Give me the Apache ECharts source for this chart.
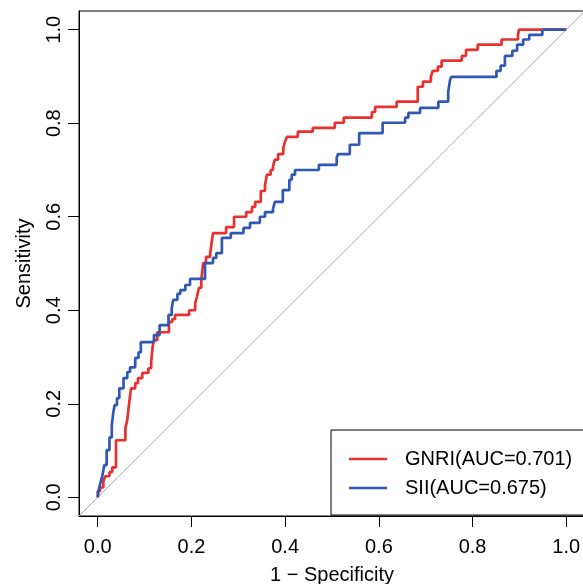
<!DOCTYPE html>
<html>
<head>
<meta charset="utf-8">
<script src="https://cdn.jsdelivr.net/npm/echarts@6/dist/echarts.min.js"></script>
<style>
html, body { margin: 0; padding: 0; background: #fff; }
#chart { width: 583px; height: 584px; }
</style>
</head>
<body>
<div id="chart"></div>
<script>
// ROC curves, x = 1 - specificity, y = sensitivity
var gnriFpr = [0, 0, 0.005, 0.012, 0.016, 0.025, 0.031, 0.039, 0.059, 0.063, 0.067, 0.071, 0.080, 0.086, 0.095, 0.108,
    0.114, 0.117, 0.120, 0.127, 0.152, 0.159, 0.165, 0.195, 0.208, 0.212, 0.216, 0.221, 0.225, 0.231, 0.240, 0.243,
    0.246, 0.274, 0.291, 0.317, 0.329, 0.336, 0.348, 0.357, 0.361, 0.369, 0.374, 0.378, 0.385, 0.396, 0.400, 0.404,
    0.427, 0.459, 0.506, 0.525, 0.585, 0.592, 0.638, 0.683, 0.694, 0.711, 0.715, 0.726, 0.734, 0.777, 0.786, 0.811,
    0.862, 0.897, 0.899, 1];
var gnriTpr = [0, 0.013, 0.021, 0.034, 0.045, 0.054, 0.064, 0.122, 0.148, 0.165, 0.201, 0.233, 0.244, 0.255, 0.266, 0.276,
    0.289, 0.321, 0.336, 0.353, 0.375, 0.381, 0.390, 0.400, 0.415, 0.430, 0.448, 0.465, 0.501, 0.514, 0.522, 0.544,
    0.565, 0.578, 0.600, 0.610, 0.621, 0.632, 0.655, 0.668, 0.690, 0.700, 0.707, 0.722, 0.734, 0.747, 0.762, 0.771,
    0.782, 0.790, 0.801, 0.812, 0.824, 0.835, 0.846, 0.878, 0.889, 0.899, 0.912, 0.921, 0.934, 0.944, 0.957, 0.968,
    0.979, 0.989, 1, 1];

var siiFpr = [0, 0.002, 0.006, 0.010, 0.014, 0.019, 0.025, 0.030, 0.033, 0.036, 0.041, 0.046, 0.055, 0.063, 0.069, 0.080,
    0.087, 0.092, 0.120, 0.132, 0.151, 0.158, 0.161, 0.170, 0.176, 0.187, 0.197, 0.229, 0.246, 0.253, 0.265, 0.284,
    0.311, 0.325, 0.346, 0.357, 0.374, 0.378, 0.395, 0.409, 0.414, 0.421, 0.472, 0.510, 0.513, 0.538, 0.558, 0.608,
    0.656, 0.663, 0.688, 0.727, 0.748, 0.752, 0.755, 0.851, 0.860, 0.869, 0.885, 0.895, 0.908, 0.921, 0.949, 1];
var siiTpr = [0, 0.015, 0.032, 0.047, 0.069, 0.101, 0.128, 0.154, 0.180, 0.197, 0.212, 0.233, 0.255, 0.268, 0.278, 0.298,
    0.310, 0.332, 0.347, 0.368, 0.390, 0.405, 0.422, 0.435, 0.443, 0.454, 0.467, 0.501, 0.512, 0.522, 0.555, 0.565,
    0.576, 0.587, 0.600, 0.610, 0.617, 0.632, 0.657, 0.679, 0.690, 0.700, 0.711, 0.726, 0.734, 0.754, 0.779, 0.801,
    0.812, 0.822, 0.833, 0.846, 0.867, 0.893, 0.899, 0.912, 0.923, 0.944, 0.955, 0.968, 0.979, 0.989, 1, 1];

var tickValues = [0, 0.2, 0.4, 0.6, 0.8, 1.0];
var seriesNames = ["GNRI(AUC=0.701)", "SII(AUC=0.675)"];
var seriesColors = ["#e8302e", "#2f57b3"];

function pairs(xs, ys) {
    var out = [];
    for (var i = 0; i < xs.length; i++) out.push([xs[i], ys[i]]);
    return out;
}

var FONT = "'Liberation Sans', Arial, Helvetica, sans-serif";

var chart = echarts.init(document.getElementById("chart"), null, {renderer: "canvas"});
chart.setOption({
    animation: false,
    backgroundColor: "#fff",
    // plot box runs past the right edge of the page, like the cut-off R plot
    grid: {left: 79, top: 11, width: 506, height: 505, outerBoundsMode: "none", containLabel: false,
        show: true, borderColor: "#000", borderWidth: 1},
    legend: {
        left: 331, top: 430,
        orient: "vertical",
        data: seriesNames,
        icon: "rect",
        itemWidth: 38, itemHeight: 2.7,
        itemGap: 9,
        padding: [19, 40, 17, 18],
        borderColor: "#000", borderWidth: 1,
        backgroundColor: "#fff",
        selectedMode: false,
        textStyle: {fontFamily: FONT, fontSize: 20, color: "#000", padding: [0, 0, 0, 13]}
    },
    xAxis: {
        type: "value", min: -0.04, max: 1.04,
        name: "1 \u2212 Specificity", nameLocation: "middle", nameGap: 49,
        nameTextStyle: {fontFamily: FONT, fontSize: 20, color: "#000"},
        splitLine: {show: false},
        axisLine: {show: true, onZero: false, lineStyle: {color: "#000", width: 1}},
        axisTick: {show: true, customValues: tickValues, length: 11, lineStyle: {color: "#000", width: 1}},
        axisLabel: {customValues: tickValues, margin: 21, fontFamily: FONT, fontSize: 20, color: "#000",
            formatter: function (v) { return v.toFixed(1); }}
    },
    yAxis: {
        type: "value", min: -0.04, max: 1.04,
        name: "Sensitivity", nameLocation: "middle", nameGap: 45,
        nameTextStyle: {fontFamily: FONT, fontSize: 20, color: "#000"},
        splitLine: {show: false},
        axisLine: {show: true, onZero: false, lineStyle: {color: "#000", width: 1}},
        axisTick: {show: true, customValues: tickValues, length: 11, lineStyle: {color: "#000", width: 1}},
        axisLabel: {customValues: tickValues, margin: 15, rotate: 90, fontFamily: FONT, fontSize: 20, color: "#000",
            formatter: function (v) { return v.toFixed(1); }}
    },
    series: [
        {
            type: "line", name: "diag", data: [[-0.04, -0.04], [1.04, 1.04]],
            symbol: "none", silent: true, z: 1,
            lineStyle: {color: "#aaaaaa", width: 1}
        },
        {
            type: "line", name: seriesNames[0], data: pairs(gnriFpr, gnriTpr),
            step: "end", symbol: "none", z: 2, color: seriesColors[0],
            lineStyle: {color: seriesColors[0], width: 2.7}
        },
        {
            type: "line", name: seriesNames[1], data: pairs(siiFpr, siiTpr),
            step: "end", symbol: "none", z: 3, color: seriesColors[1],
            lineStyle: {color: seriesColors[1], width: 2.7}
        }
    ]
});
</script>
</body>
</html>
